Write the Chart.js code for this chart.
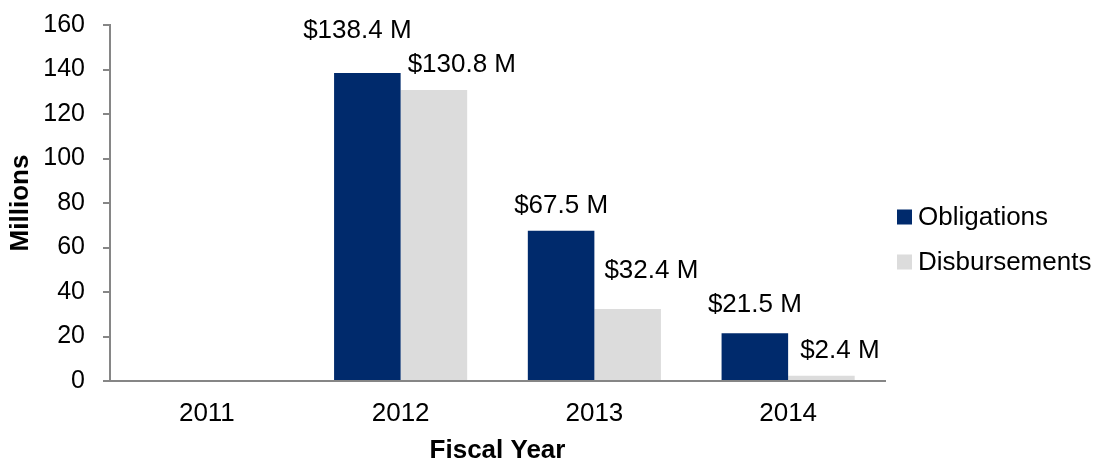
<!DOCTYPE html>
<html>
<head>
<meta charset="utf-8">
<script src="https://cdn.jsdelivr.net/npm/chart.js@4/dist/chart.umd.min.js"></script>
<style>
  html, body { margin: 0; padding: 0; background: #ffffff; }
  #wrap { width: 1095px; height: 459px; }
</style>
</head>
<body>
<div id="wrap"><canvas id="c" width="1095" height="459"></canvas></div>
<script>
// Fiscal years and amounts (millions of dollars)
const years = ['2011', '2012', '2013', '2014'];
const obligations = [0, 138.4, 67.5, 21.5];
const disbursements = [0, 130.8, 32.4, 2.4];
const obligationLabels = ['', '$138.4 M', '$67.5 M', '$21.5 M'];
const disbursementLabels = ['', '$130.8 M', '$32.4 M', '$2.4 M'];
const yTicks = [0, 20, 40, 60, 80, 100, 120, 140, 160];

// Label nudges in pixels (dx from anchor, lift above bar top) so neighbours don't collide
const obligationNudge = [[0, 0], [-10, 42], [0, 25], [0, 28]];
const disbursementNudge = [[0, 0], [7, 25], [10, 38], [12, 25]];

const FONT = '"Liberation Sans", Arial, sans-serif';

const valueLabels = {
  id: 'valueLabels',
  afterDatasetsDraw(chart) {
    const ctx = chart.ctx;
    ctx.save();
    ctx.font = '26px ' + FONT;
    ctx.fillStyle = '#000000';
    ctx.textBaseline = 'middle';
    chart.getDatasetMeta(0).data.forEach((bar, i) => {
      if (!obligationLabels[i]) return;
      const [dx, lift] = obligationNudge[i];
      ctx.textAlign = 'center';
      ctx.fillText(obligationLabels[i], bar.x + dx, bar.y - lift);
    });
    chart.getDatasetMeta(1).data.forEach((bar, i) => {
      if (!disbursementLabels[i]) return;
      const [dx, lift] = disbursementNudge[i];
      ctx.textAlign = 'left';
      ctx.fillText(disbursementLabels[i], bar.x - bar.width / 2 + dx, bar.y - lift);
    });
    ctx.restore();
  }
};

// Legend to the right of the plot: square swatch + series name, one per row
const sideLegend = {
  id: 'sideLegend',
  afterDraw(chart) {
    const ctx = chart.ctx;
    const area = chart.chartArea;
    const x = area.right + 12;
    const midY = (area.top + area.bottom) / 2;
    const rowGap = 45;
    const firstY = midY + 14;
    ctx.save();
    ctx.font = '26px ' + FONT;
    ctx.textBaseline = 'middle';
    ctx.textAlign = 'left';
    chart.data.datasets.forEach((ds, i) => {
      const cy = firstY + i * rowGap;
      ctx.fillStyle = ds.backgroundColor;
      ctx.fillRect(x, cy - 7.5, 15, 15);
      ctx.fillStyle = '#000000';
      ctx.fillText(ds.label, x + 21, cy + 1);
    });
    ctx.restore();
  }
};

new Chart(document.getElementById('c'), {
  type: 'bar',
  data: {
    labels: years,
    datasets: [
      { label: 'Obligations', data: obligations, backgroundColor: '#002A6C',
        categoryPercentage: 0.687, barPercentage: 1.0 },
      { label: 'Disbursements', data: disbursements, backgroundColor: '#DCDCDC',
        categoryPercentage: 0.687, barPercentage: 1.0 }
    ]
  },
  options: {
    responsive: false,
    animation: false,
    layout: { padding: { top: 25, left: 0, right: 210, bottom: 0 } },
    plugins: {
      tooltip: { enabled: false },
      legend: { display: false }
    },
    scales: {
      x: {
        grid: { display: false, drawTicks: false },
        border: { display: true, color: '#868686', width: 2 },
        ticks: { font: { family: FONT, size: 26 }, color: '#000000', padding: 17 },
        title: { display: true, text: 'Fiscal Year', color: '#000000',
                 font: { family: FONT, size: 26, weight: 'bold', lineHeight: 0.6 },
                 padding: { top: 0, bottom: 0 } },
        afterFit(axis) { axis.height = 78; axis.paddingLeft = 0; axis.paddingRight = 0; }
      },
      y: {
        min: 0, max: 160,
        afterBuildTicks(axis) { axis.ticks = yTicks.map(v => ({ value: v })); },
        grid: { display: true, drawOnChartArea: false, drawTicks: true, tickLength: 7,
                color: '#868686', lineWidth: 2 },
        border: { display: true, color: '#868686', width: 2 },
        ticks: { font: { family: FONT, size: 25 }, color: '#000000', padding: 18 },
        title: { display: true, text: 'Millions', color: '#000000',
                 font: { family: FONT, size: 26, weight: 'bold', lineHeight: 1 },
                 padding: { top: 8, bottom: 0 } },
        afterFit(axis) { axis.width = 110; axis.paddingTop = 0; axis.paddingBottom = 0; }
      }
    }
  },
  plugins: [valueLabels, sideLegend]
});
</script>
</body>
</html>
